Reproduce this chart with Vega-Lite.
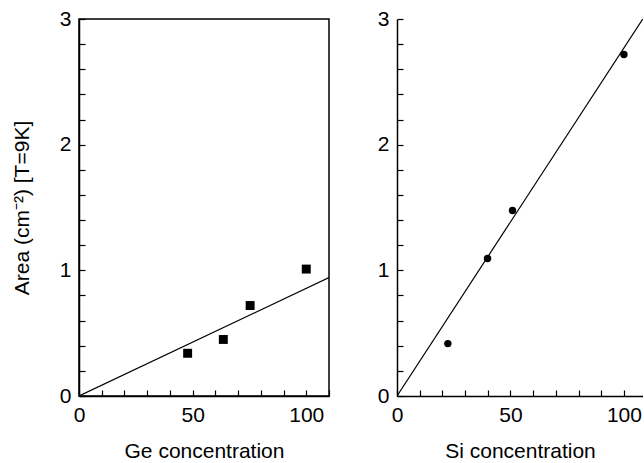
{
  "$schema": "https://vega.github.io/schema/vega-lite/v6.json",
  "padding": {"left": 10, "top": 7, "right": 0, "bottom": 0},
  "background": "white",
  "spacing": 46,
  "config": {
    "font": "Liberation Sans",
    "axis": {
      "labelFont": "Liberation Sans", "titleFont": "Liberation Sans",
      "labelFontSize": 21, "titleFontSize": 21, "titleFontWeight": "normal",
      "labelColor": "black", "titleColor": "black",
      "domainColor": "black", "domainWidth": 1.5,
      "tickColor": "black", "tickWidth": 1.2, "tickSize": -6,
      "labelOverlap": false, "tickCount": 100,
      "grid": false
    },
    "view": {"stroke": "black", "strokeWidth": 1.5}
  },
  "datasets": {
    "ge": [
      {"conc": 47.8, "area": 0.34},
      {"conc": 63.5, "area": 0.45},
      {"conc": 75.3, "area": 0.72},
      {"conc": 100, "area": 1.01}
    ],
    "gefit": [
      {"conc": 0, "area": 0},
      {"conc": 110, "area": 0.943}
    ],
    "si": [
      {"conc": 22.4, "area": 0.417},
      {"conc": 39.9, "area": 1.094},
      {"conc": 50.9, "area": 1.476},
      {"conc": 100, "area": 2.718}
    ],
    "sifit": [
      {"conc": 0, "area": 0},
      {"conc": 108.3, "area": 3.0}
    ]
  },
  "hconcat": [
    {
      "width": 250,
      "height": 377,
      "layer": [
        {
          "data": {"name": "gefit"},
          "mark": {"type": "line", "color": "black", "strokeWidth": 1.2, "clip": true},
          "encoding": {
            "x": {"field": "conc", "type": "quantitative", "scale": {"domain": [0, 110], "nice": false},
              "axis": {"title": "Ge concentration", "values": [0,10,20,30,40,50,60,70,80,90,100,110], "tickCount": 100,
                "labelExpr": "datum.value % 50 === 0 ? format(datum.value, 'd') : ''", "labelOverlap": false, "tickSize": -6, "labelPadding": 14, "titlePadding": 15, "labelFlush": false}},
            "y": {"field": "area", "type": "quantitative", "scale": {"domain": [0, 3], "nice": false},
              "axis": {"title": "Area (cm⁻²)  [T=9K]", "values": [0,0.2,0.4,0.6,0.8,1,1.2,1.4,1.6,1.8,2,2.2,2.4,2.6,2.8,3], "tickCount": 100,
                "labelExpr": "datum.value % 1 === 0 ? format(datum.value, 'd') : ''", "labelOverlap": false, "tickSize": -6, "labelPadding": 14, "titlePadding": 27, "labelFlush": false}}
          }
        },
        {
          "data": {"name": "ge"},
          "mark": {"type": "point", "shape": "square", "filled": true, "color": "black", "size": 80, "opacity": 1},
          "encoding": {
            "x": {"field": "conc", "type": "quantitative"},
            "y": {"field": "area", "type": "quantitative"}
          }
        }
      ]
    },
    {
      "width": 246,
      "height": 377,
      "view": {"stroke": null},
      "layer": [
        {
          "data": {"name": "sifit"},
          "mark": {"type": "line", "color": "black", "strokeWidth": 1.2, "clip": true},
          "encoding": {
            "x": {"field": "conc", "type": "quantitative", "scale": {"domain": [0, 108.4], "nice": false},
              "axis": {"title": "Si concentration", "values": [0,10,20,30,40,50,60,70,80,90,100], "tickCount": 100,
                "labelExpr": "datum.value % 50 === 0 ? format(datum.value, 'd') : ''", "labelOverlap": false, "tickSize": -6, "labelPadding": 14, "titlePadding": 15, "labelFlush": false}},
            "y": {"field": "area", "type": "quantitative", "scale": {"domain": [0, 3], "nice": false},
              "axis": {"title": null, "values": [0,0.2,0.4,0.6,0.8,1,1.2,1.4,1.6,1.8,2,2.2,2.4,2.6,2.8,3], "tickCount": 100,
                "labelExpr": "datum.value % 1 === 0 ? format(datum.value, 'd') : ''", "labelOverlap": false, "tickSize": -6, "labelPadding": 14, "labelFlush": false}}
          }
        },
        {
          "data": {"name": "si"},
          "mark": {"type": "point", "shape": "circle", "filled": true, "color": "black", "size": 55, "opacity": 1},
          "encoding": {
            "x": {"field": "conc", "type": "quantitative"},
            "y": {"field": "area", "type": "quantitative"}
          }
        },
        {
          "mark": {"type": "rule", "color": "black", "strokeWidth": 1.5},
          "encoding": {"y": {"datum": 3, "type": "quantitative"}}
        }
      ]
    }
  ]
}
